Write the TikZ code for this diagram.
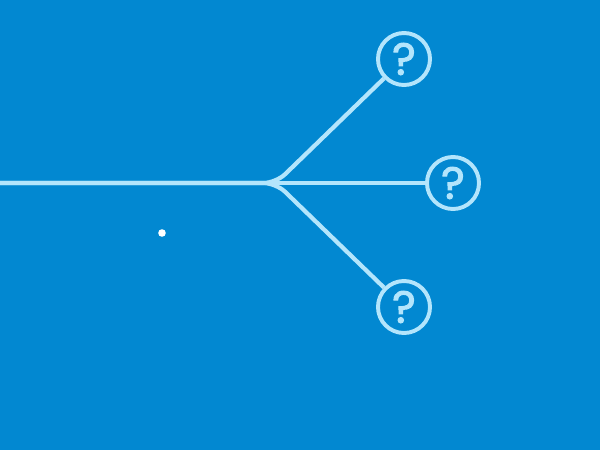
\documentclass[tikz,border=0pt]{standalone}
\usepackage{fontspec}
\newfontfamily\markfont{Poppins}[FakeBold=2.2]
\usetikzlibrary{positioning}
\definecolor{bgblue}{HTML}{0288D1}
\definecolor{paleblue}{HTML}{B3E5FC}
\tikzset{
branch/.style = { draw = paleblue, line width = 3pt, rounded corners = 9pt },
unknown/.style = { circle, draw = paleblue, line width = 2.8pt, text = paleblue, minimum size = 1.3cm, inner sep = 0pt, font = \markfont\fontsize{32}{32}\selectfont },
}

\begin{document}
\begin{tikzpicture}[x=0.025cm, y=-0.025cm]
      \fill[bgblue] (0,0) rectangle (600,450);
      \useasboundingbox (0,0) rectangle (600,450);
      \coordinate (root) at (0,183);
      \coordinate (fork) at (276,183);
      % the three outcomes
      \node[unknown] (up) at (404,59) {?};
      \node[unknown] (mid) at (453,183) {?};
      \node[unknown] (down) at (404,307) {?};
      \path[branch] (root) -- (fork) -- (up);
      \path[branch] (root) -- (fork) -- (down);
      \path[branch] (root) -- (mid);
      \node[circle, fill = white, minimum size = 0.19cm, inner sep = 0pt] (dot) at (162,233) {};
\end{tikzpicture}
\end{document}
